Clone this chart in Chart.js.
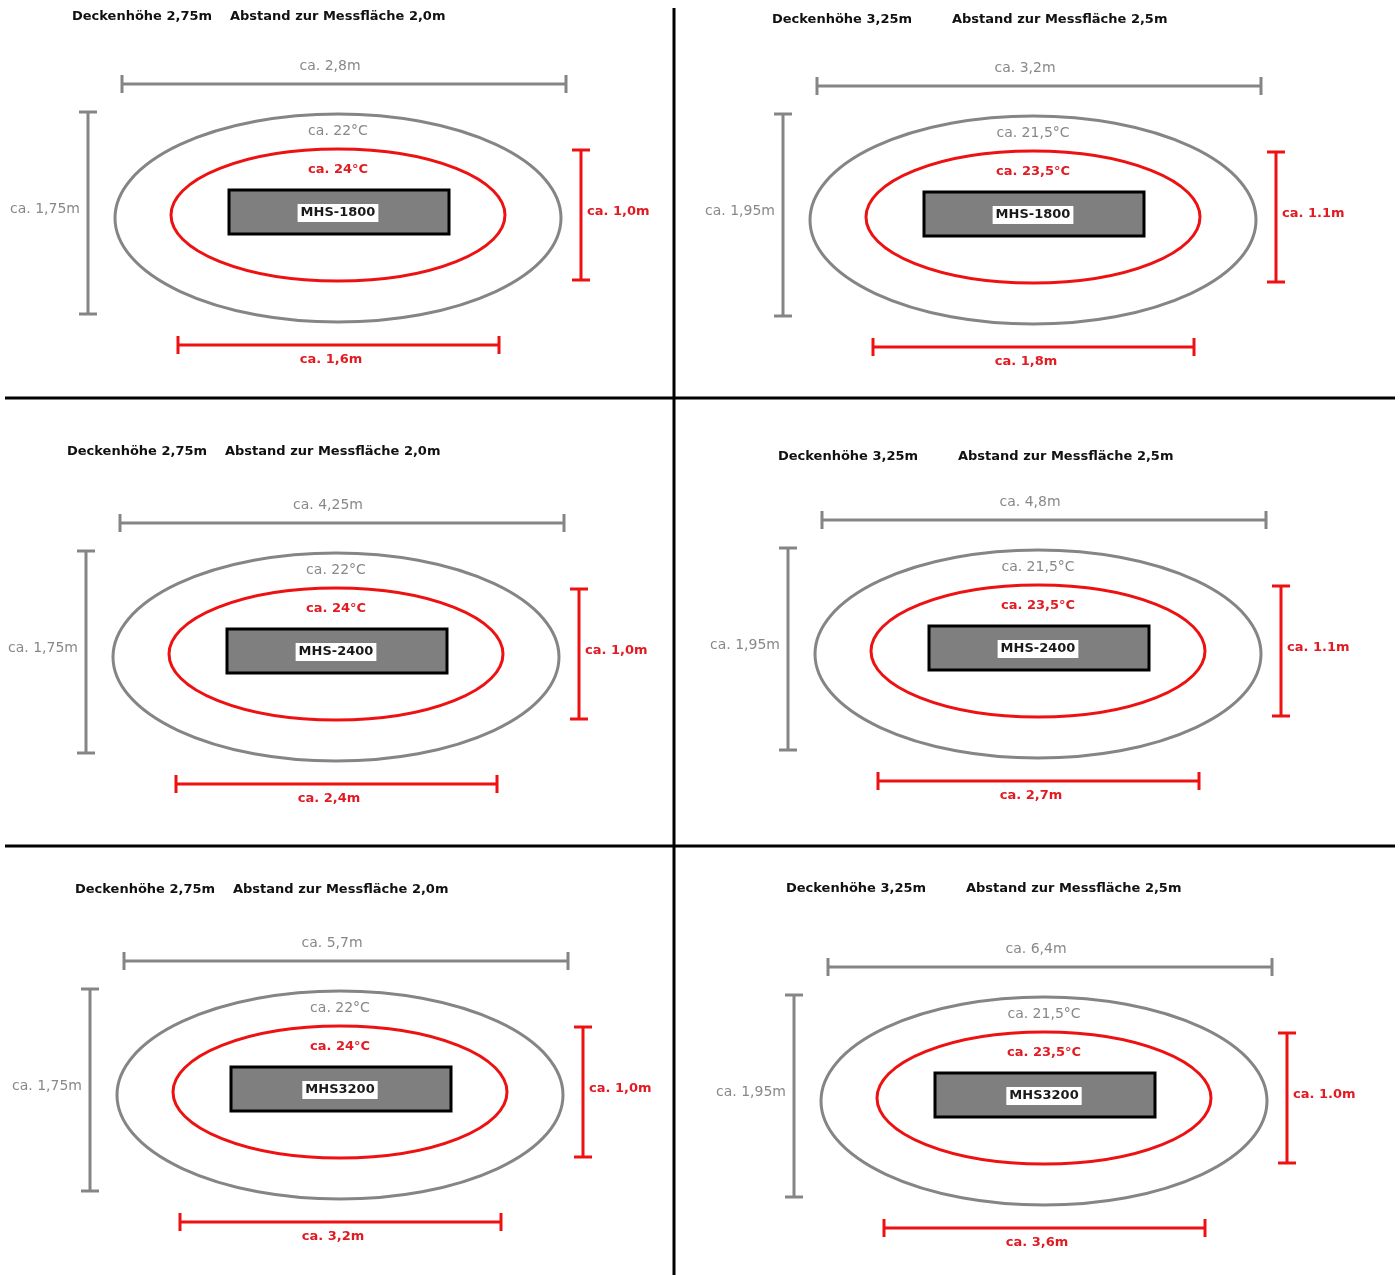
<!DOCTYPE html>
<html>
<head>
<meta charset="utf-8">
<script src="https://cdn.jsdelivr.net/npm/chart.js@4/dist/chart.umd.min.js"></script>
<style>
  html, body { margin: 0; padding: 0; background: #ffffff; }
  #wrap { width: 1400px; height: 1275px; position: relative; }
</style>
</head>
<body>
<div id="wrap"><canvas id="c" width="1400" height="1275"></canvas></div>
<script>
// ---------- DATA ----------
const ceilingHeights = ["2,75m", "3,25m", "2,75m", "3,25m", "2,75m", "3,25m"];
const measureDistances = ["2,0m", "2,5m", "2,0m", "2,5m", "2,0m", "2,5m"];
const models = ["MHS-1800", "MHS-1800", "MHS-2400", "MHS-2400", "MHS3200", "MHS3200"];
const outerWidths = ["ca. 2,8m", "ca. 3,2m", "ca. 4,25m", "ca. 4,8m", "ca. 5,7m", "ca. 6,4m"];
const outerHeights = ["ca. 1,75m", "ca. 1,95m", "ca. 1,75m", "ca. 1,95m", "ca. 1,75m", "ca. 1,95m"];
const innerWidths = ["ca. 1,6m", "ca. 1,8m", "ca. 2,4m", "ca. 2,7m", "ca. 3,2m", "ca. 3,6m"];
const innerHeights = ["ca. 1,0m", "ca. 1.1m", "ca. 1,0m", "ca. 1.1m", "ca. 1,0m", "ca. 1.0m"];
const outerTemps = ["ca. 22°C", "ca. 21,5°C", "ca. 22°C", "ca. 21,5°C", "ca. 22°C", "ca. 21,5°C"];
const innerTemps = ["ca. 24°C", "ca. 23,5°C", "ca. 24°C", "ca. 23,5°C", "ca. 24°C", "ca. 23,5°C"];

// ---------- LAYOUT (positions / sizes) ----------
const panelCenters = [[338, 218], [1033, 220], [336, 657], [1038, 654], [340, 1095], [1044, 1101]];
const titlePos = [[72, 17], [772, 20], [67, 452], [778, 457], [75, 890], [786, 889]];
const titleGap = [158, 180, 158, 180, 158, 180];
const T = {
  outerDim: { y: -134, x0: -216, x1: 228, lx: -8, ly: -152 },
  outerEll: { rx: 223, ry: 104 },
  innerEll: { dy: -3, rx: 167, ry: 66 },
  outerTemp: { x: 0, y: -87 },
  innerTemp: { x: 0, y: -48 },
  rect: { x0: -109, x1: 111, y0: -28, y1: 16 },
  model: { x: 0, y: -5 },
  leftDim: { x: -250, y0: -106, y1: 96, lx: -293, ly: -9 },
  rightDim: { x: 243, y0: -68, y1: 62, lx: 249, ly: -6 },
  bottomDim: { y: 127, x0: -160, x1: 161, lx: -7, ly: 142 }
};
const separators = [
  [[674, 8], [674, 1275]],
  [[5, 398], [1395, 398]],
  [[5, 846], [1395, 846]]
];

const GRAY = "#858585";
const GRAY_TXT = "#888888";
const RED = "#ee1111";
const RED_TXT = "#e21b23";
const FONT = "'DejaVu Sans', Verdana, sans-serif";

// ---------- DATASETS ----------
const datasets = [];
function dimLine(p0, p1, color, horizontal) {
  datasets.push({
    data: [{ x: p0[0], y: p0[1] }, { x: p1[0], y: p1[1] }],
    showLine: true,
    borderColor: color,
    borderWidth: 3,
    pointStyle: 'line',
    pointRadius: 9,
    pointHoverRadius: 9,
    pointBorderWidth: 3,
    pointBorderColor: color,
    pointRotation: horizontal ? 90 : 0
  });
}
panelCenters.forEach(([cx, cy]) => {
  dimLine([cx + T.outerDim.x0, cy + T.outerDim.y], [cx + T.outerDim.x1, cy + T.outerDim.y], GRAY, true);
  dimLine([cx + T.leftDim.x, cy + T.leftDim.y0], [cx + T.leftDim.x, cy + T.leftDim.y1], GRAY, false);
  dimLine([cx + T.rightDim.x, cy + T.rightDim.y0], [cx + T.rightDim.x, cy + T.rightDim.y1], RED, false);
  dimLine([cx + T.bottomDim.x0, cy + T.bottomDim.y], [cx + T.bottomDim.x1, cy + T.bottomDim.y], RED, true);
});
separators.forEach(([a, b]) => {
  datasets.push({
    data: [{ x: a[0], y: a[1] }, { x: b[0], y: b[1] }],
    showLine: true, borderColor: "#000", borderWidth: 3, pointRadius: 0, pointHoverRadius: 0
  });
});

// ---------- DRAWING PLUGIN ----------
const diagramPlugin = {
  id: 'diagram',
  beforeDatasetsDraw(chart) {
    const ctx = chart.ctx, xs = chart.scales.x, ys = chart.scales.y;
    const px = v => xs.getPixelForValue(v), py = v => ys.getPixelForValue(v);
    ctx.save();
    panelCenters.forEach(([cx, cy]) => {
      ctx.beginPath();
      ctx.ellipse(px(cx), py(cy), Math.abs(px(cx + T.outerEll.rx) - px(cx)), Math.abs(py(cy + T.outerEll.ry) - py(cy)), 0, 0, Math.PI * 2);
      ctx.strokeStyle = GRAY; ctx.lineWidth = 3; ctx.stroke();
      const icy = cy + T.innerEll.dy;
      ctx.beginPath();
      ctx.ellipse(px(cx), py(icy), Math.abs(px(cx + T.innerEll.rx) - px(cx)), Math.abs(py(icy + T.innerEll.ry) - py(icy)), 0, 0, Math.PI * 2);
      ctx.strokeStyle = RED; ctx.lineWidth = 3; ctx.stroke();
      const x0 = px(cx + T.rect.x0), x1 = px(cx + T.rect.x1), y0 = py(cy + T.rect.y0), y1 = py(cy + T.rect.y1);
      ctx.fillStyle = "#7f7f7f";
      ctx.fillRect(x0, y0, x1 - x0, y1 - y0);
      ctx.strokeStyle = "#000"; ctx.lineWidth = 3;
      ctx.strokeRect(x0, y0, x1 - x0, y1 - y0);
    });
    ctx.restore();
  },
  afterDatasetsDraw(chart) {
    const ctx = chart.ctx, xs = chart.scales.x, ys = chart.scales.y;
    const px = v => xs.getPixelForValue(v), py = v => ys.getPixelForValue(v);
    ctx.save();
    ctx.textBaseline = 'middle';
    function txt(s, x, y, font, color, align) {
      ctx.font = font; ctx.fillStyle = color; ctx.textAlign = align || 'center';
      ctx.fillText(s, px(x), py(y));
    }
    const grayFont = "14px " + FONT;
    const redFont = "bold 13px " + FONT;
    const titleFont = "bold 13px " + FONT;
    panelCenters.forEach(([cx, cy], i) => {
      const [tx, ty] = titlePos[i];
      txt("Deckenhöhe " + ceilingHeights[i], tx, ty, titleFont, "#111", 'left');
      txt("Abstand zur Messfläche " + measureDistances[i], tx + titleGap[i], ty, titleFont, "#111", 'left');
      txt(outerWidths[i], cx + T.outerDim.lx, cy + T.outerDim.ly, grayFont, GRAY_TXT);
      txt(outerHeights[i], cx + T.leftDim.lx, cy + T.leftDim.ly, grayFont, GRAY_TXT);
      txt(outerTemps[i], cx + T.outerTemp.x, cy + T.outerTemp.y, grayFont, GRAY_TXT);
      txt(innerTemps[i], cx + T.innerTemp.x, cy + T.innerTemp.y, redFont, RED_TXT);
      txt(innerHeights[i], cx + T.rightDim.lx, cy + T.rightDim.ly, redFont, RED_TXT, 'left');
      txt(innerWidths[i], cx + T.bottomDim.lx, cy + T.bottomDim.ly, redFont, RED_TXT);
      ctx.font = "bold 13px " + FONT;
      const w = ctx.measureText(models[i]).width;
      const mx = px(cx + T.model.x), my = py(cy + T.model.y);
      ctx.fillStyle = "#ffffff";
      ctx.fillRect(mx - w / 2 - 3, my - 9, w + 6, 18);
      txt(models[i], cx + T.model.x, cy + T.model.y, "bold 13px " + FONT, "#1a1a1a");
    });
    ctx.restore();
  }
};

new Chart(document.getElementById('c'), {
  type: 'scatter',
  data: { datasets },
  options: {
    responsive: false,
    animation: false,
    events: [],
    layout: { padding: 0, autoPadding: false },
    plugins: { legend: { display: false }, tooltip: { enabled: false } },
    elements: { line: { tension: 0 } },
    scales: {
      x: { type: 'linear', min: 0, max: 1400, display: false },
      y: { type: 'linear', min: 0, max: 1275, reverse: true, display: false }
    }
  },
  plugins: [diagramPlugin]
});
</script>
</body>
</html>
